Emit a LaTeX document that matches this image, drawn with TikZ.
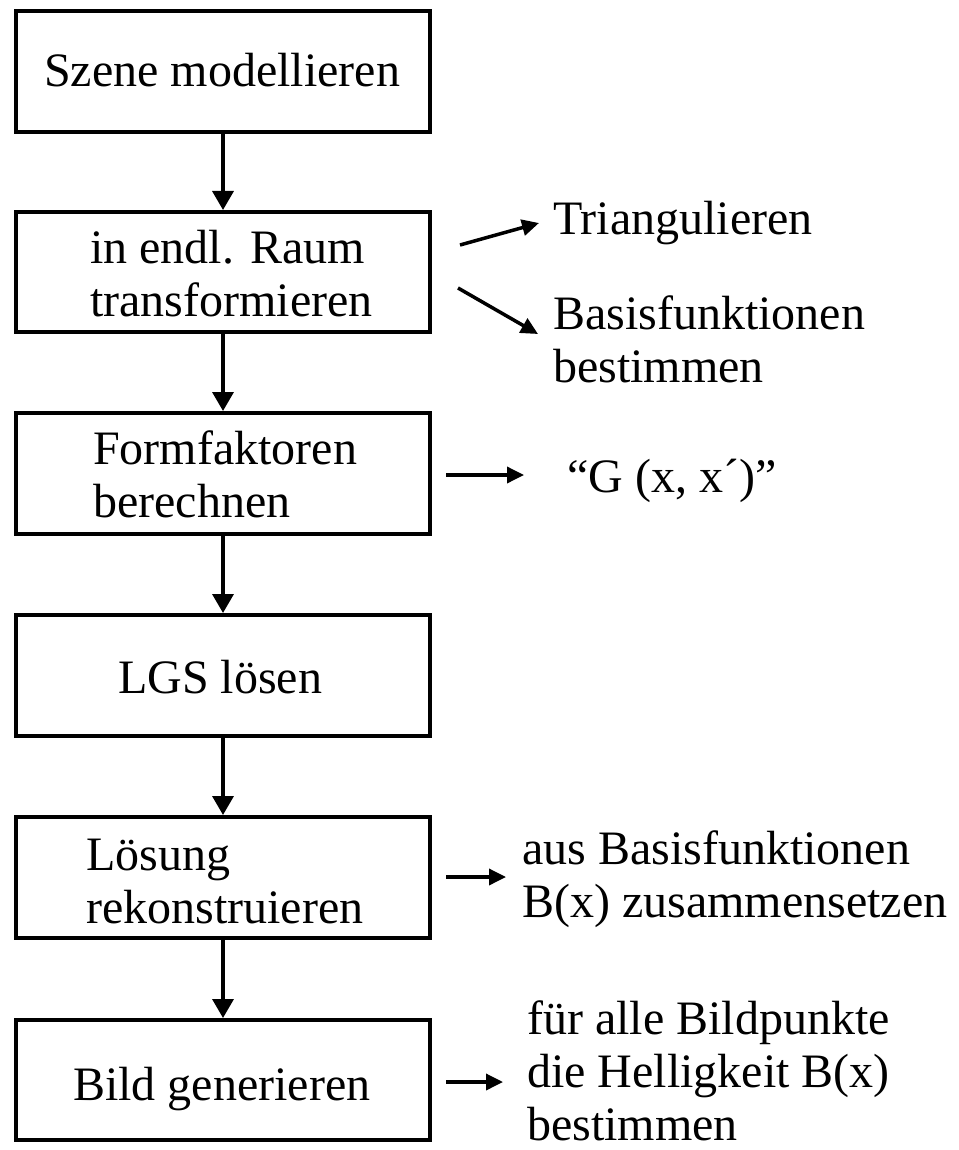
\documentclass[tikz,border=0pt]{standalone}
\usepackage{fontspec}
\setmainfont{Liberation Serif}
\usetikzlibrary{arrows.meta}
\begin{document}
\begin{tikzpicture}[x=1pt,y=-1pt,
  box/.style={draw,line width=4pt,rectangle,minimum width=414pt,inner sep=0pt},
  txt/.style={font=\fontsize{48}{53}\selectfont,inner sep=0pt,anchor=base west,align=left},
  flow/.style={line width=3.5pt,-{Triangle[length=19pt,width=21pt]}},
  side/.style={line width=3.5pt,-{Triangle[length=17pt,width=16pt]}}]
\useasboundingbox (0,0) rectangle (958,1150);
% boxes
\node[box,minimum height=121pt] (b1) at (223,71.5) {};
\node[box,minimum height=120pt] (b2) at (223,272) {};
\node[box,minimum height=121pt] (b3) at (223,473.5) {};
\node[box,minimum height=121pt] (b4) at (223,675.5) {};
\node[box,minimum height=121pt] (b5) at (223,877.5) {};
\node[box,minimum height=120pt] (b6) at (223,1080) {};
% box texts (anchor = baseline of last line)
\node[txt] (t1) at (44,87) {Szene modellieren};
\node[txt] (t2) at (90,316) {in endl. Raum\\transformieren};
\node[txt] (t3) at (93,517) {Formfaktoren\\berechnen};
\node[txt] (t4) at (118,693) {LGS lösen};
\node[txt] (t5) at (86,923) {Lösung\\rekonstruieren};
\node[txt] (t6) at (73,1100) {Bild generieren};
% flow arrows
\draw[flow] (b1.south) -- (b2.north);
\draw[flow] (b2.south) -- (b3.north);
\draw[flow] (b3.south) -- (b4.north);
\draw[flow] (b4.south) -- (b5.north);
\draw[flow] (b5.south) -- (b6.north);
% side labels
\node[txt] (s1) at (553,235) {Triangulieren};
\node[txt] (s2) at (553,382) {Basisfunktionen\\bestimmen};
\node[txt] (s3) at (567,492) {“G (x, x´)”};
\node[txt] (s4) at (522,917) {aus Basisfunktionen\\B(x) zusammensetzen};
\node[txt] (s5) at (527,1140) {für alle Bildpunkte\\die Helligkeit B(x)\\bestimmen};
% side arrows
\coordinate (a1s) at (460,245);
\coordinate (a1e) at (539,223);
\coordinate (a2s) at (458,288);
\coordinate (a2e) at (538,334);
\coordinate (a3s) at (446,475);
\coordinate (a3e) at (524,475);
\coordinate (a4s) at (446,877);
\coordinate (a4e) at (506,877);
\coordinate (a5s) at (446,1082);
\coordinate (a5e) at (503,1082);
\draw[side] (a1s) -- (a1e);
\draw[side] (a2s) -- (a2e);
\draw[side] (a3s) -- (a3e);
\draw[side] (a4s) -- (a4e);
\draw[side] (a5s) -- (a5e);
\end{tikzpicture}
\end{document}
